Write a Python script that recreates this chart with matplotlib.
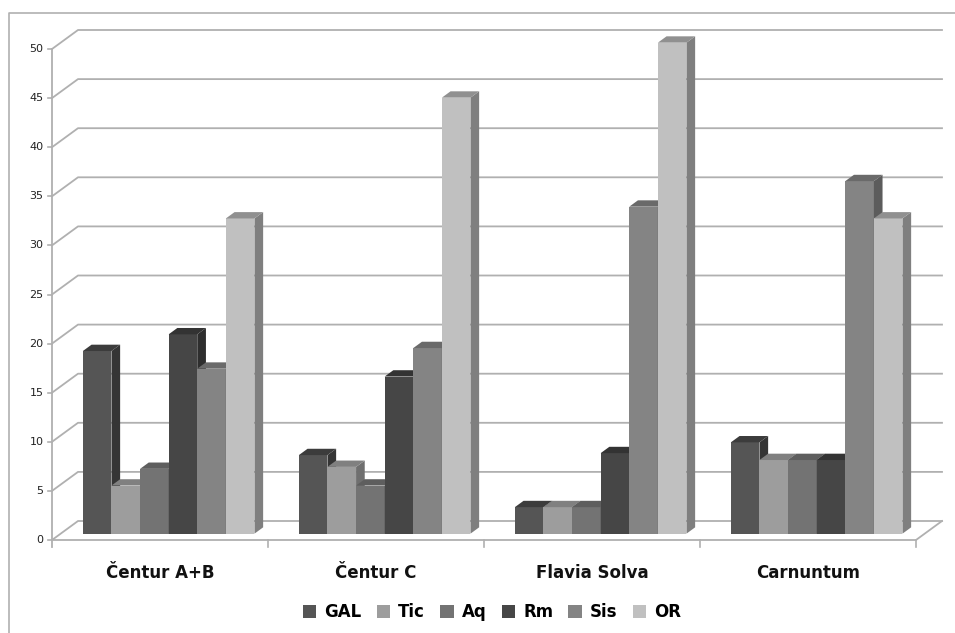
import matplotlib.pyplot as plt
from matplotlib.patches import Rectangle, Polygon, Patch
from matplotlib.lines import Line2D

# данные
categories = ['Čentur A+B', 'Čentur C', 'Flavia Solva', 'Carnuntum']
series = ['GAL', 'Tic', 'Aq', 'Rm', 'Sis', 'OR']
values = {
    'GAL': [18.6, 8.0, 2.7, 9.3],
    'Tic': [4.9, 6.8, 2.7, 7.5],
    'Aq':  [6.6, 4.9, 2.7, 7.5],
    'Rm':  [20.3, 16.0, 8.2, 7.5],
    'Sis': [16.8, 18.9, 33.3, 35.9],
    'OR':  [32.1, 44.4, 50.0, 32.1],
}
yticks = list(range(0, 55, 5))

# цвета граней: перед, бок, верх
front_c = ['#555555', '#9d9d9d', '#737373', '#464646', '#848484', '#c0c0c0']
side_c = ['#353535', '#6f6f6f', '#505050', '#2e2e2e', '#5c5c5c', '#7f7f7f']
top_c = ['#3c3c3c', '#808080', '#5e5e5e', '#333333', '#6a6a6a', '#909090']

W, H = 955, 633
fig = plt.figure(figsize=(W / 100, H / 100), dpi=100)
# передняя ось: x=52..916 px, y=540..49 px
ax = fig.add_axes([52 / W, (H - 540) / H, (916 - 52) / W, (540 - 49) / H])
ax.set_xlim(0, 4)
ax.set_ylim(0, 50)
ax.axis('off')

px_x = 216.0  # пикселей на категорию
px_y = 491.0 / 50  # пикселей на единицу
dx = 26 / px_x  # глубина по x
dy = 19 / px_y  # глубина по y
grid_c = '#b0b0b0'

# задняя стенка и левая стенка
for v in yticks:
    ax.plot([0, dx, 4 + dx], [v, v + dy, v + dy], color=grid_c, lw=1.3,
            clip_on=False, zorder=1)
    ax.plot([-0.02, 0], [v, v], color=grid_c, lw=1.2, clip_on=False, zorder=1)
    ax.text(-0.04, v, str(v), ha='right', va='center', fontsize=8,
            color='#222222', family='DejaVu Sans')
# пол
ax.plot([0, 4, 4 + dx], [0, 0, dy], color=grid_c, lw=1.3, clip_on=False, zorder=1)
ax.plot([0, 0], [-0.7, 50], color=grid_c, lw=1.3, clip_on=False, zorder=1)
for c in range(1, 5):
    ax.plot([c, c], [0, -0.7], color=grid_c, lw=1.2, clip_on=False, zorder=1)

# столбцы
bw = 28.6 / px_x
fx, fy = dx / 3, dy / 3
for ci, cat in enumerate(categories):
    ax.text(ci + 0.5, -3.4, cat, ha='center', va='center', fontsize=12,
            fontweight='bold', color='#111111', family='DejaVu Sans')
    for si, s in enumerate(series):
        v = values[s][ci]
        x0 = ci + 0.5 - 3 * bw + si * bw + fx
        y0 = fy
        z = 3 + si
        ax.add_patch(Rectangle((x0, y0), bw, v, facecolor=front_c[si],
                               edgecolor='none', clip_on=False, zorder=z))
        ax.add_patch(Polygon([(x0 + bw, y0), (x0 + bw + fx, y0 + fy),
                              (x0 + bw + fx, y0 + v + fy), (x0 + bw, y0 + v)],
                             facecolor=side_c[si], edgecolor='none',
                             clip_on=False, zorder=z))
        ax.add_patch(Polygon([(x0, y0 + v), (x0 + bw, y0 + v),
                              (x0 + bw + fx, y0 + v + fy), (x0 + fx, y0 + v + fy)],
                             facecolor=top_c[si], edgecolor='none',
                             clip_on=False, zorder=z))

# легенда
handles = [Patch(facecolor=front_c[i], edgecolor='none', label=s)
           for i, s in enumerate(series)]
fig.legend(handles=handles, loc='center', bbox_to_anchor=(492 / W, (H - 612) / H),
           ncol=6, frameon=False, prop={'weight': 'bold', 'size': 12},
           handlelength=0.8, handleheight=0.8, handletextpad=0.5, columnspacing=0.9)

# рамка области диаграммы
fig.add_artist(Line2D([9 / W, 9 / W, 1], [0, (H - 13) / H, (H - 13) / H],
                      color='#b0b0b0', lw=1.2))

fig.savefig('out.png', dpi=100)
